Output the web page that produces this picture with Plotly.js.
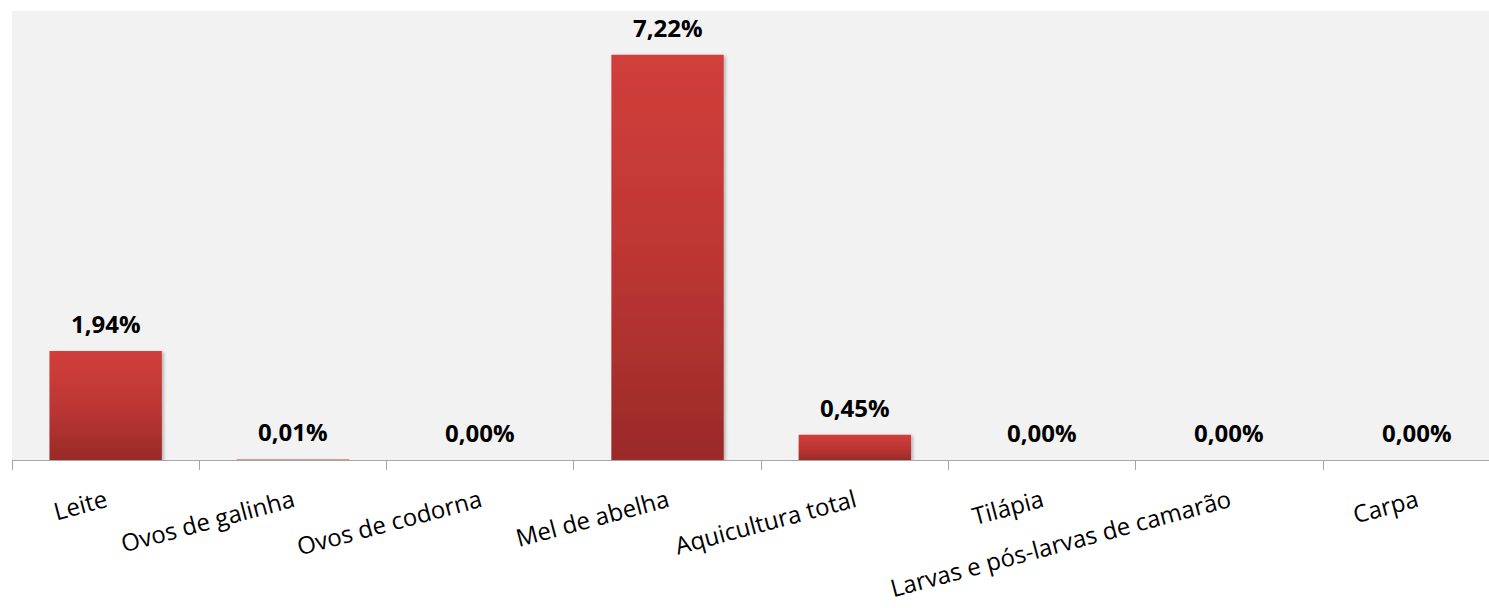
<!DOCTYPE html>
<html>
<head>
<meta charset="utf-8">
<script src="https://cdn.plot.ly/plotly-3.0.1.min.js"></script>
<style>
  html, body { margin: 0; padding: 0; background: #ffffff; }
  #chart { width: 1489px; height: 608px; }
</style>
</head>
<body>
<div id="chart"></div>
<script>
const categories = [
  "Leite",
  "Ovos de galinha",
  "Ovos de codorna",
  "Mel de abelha",
  "Aquicultura total",
  "Tilápia",
  "Larvas e pós-larvas de camarão",
  "Carpa"
];
const values = [1.94, 0.01, 0.00, 7.22, 0.45, 0.00, 0.00, 0.00];
const valueLabels = values.map(v => v.toFixed(2).replace('.', ',') + '%');

const trace = {
  type: 'bar',
  x: categories,
  y: values,
  marker: { color: '#b83532', line: { width: 0 } },
  hoverinfo: 'none'
};

const annotations = categories.map((c, i) => ({
  x: c,
  y: values[i],
  xref: 'x',
  yref: 'y',
  text: valueLabels[i],
  showarrow: false,
  yanchor: 'bottom',
  xanchor: 'center',
  yshift: 9,
  font: { family: 'Open Sans', size: 24, color: '#000000', weight: 'bold' }
}));

const layout = {
  width: 1489,
  height: 608,
  margin: { l: 12, r: 0, t: 11, b: 148, pad: 0 },
  paper_bgcolor: '#ffffff',
  plot_bgcolor: '#f2f2f2',
  showlegend: false,
  bargap: 0.4,
  font: { family: 'Open Sans', color: '#000000' },
  xaxis: {
    type: 'category',
    range: [-0.5, 7.386],
    tickson: 'boundaries',
    ticks: 'outside',
    ticklen: 9,
    tickwidth: 1,
    tickcolor: '#a6a6a6',
    showline: true,
    linecolor: '#a6a6a6',
    linewidth: 1,
    showgrid: false,
    zeroline: false,
    tickangle: -15,
    ticklabelstandoff: 17,
    tickfont: { family: 'Open Sans', size: 24, color: '#000000' },
    automargin: false,
    fixedrange: true
  },
  yaxis: {
    range: [0, 8],
    showgrid: false,
    zeroline: false,
    showline: false,
    showticklabels: false,
    ticks: '',
    fixedrange: true
  },
  annotations: annotations
};

Plotly.newPlot('chart', [trace], layout, { displayModeBar: false, staticPlot: true }).then(gd => {
  const svg = gd.querySelector('svg.main-svg');
  const ns = 'http://www.w3.org/2000/svg';
  let defs = svg.querySelector('defs');
  if (!defs) { defs = document.createElementNS(ns, 'defs'); svg.insertBefore(defs, svg.firstChild); }
  const grad = document.createElementNS(ns, 'linearGradient');
  grad.setAttribute('id', 'barGrad');
  grad.setAttribute('x1', '0'); grad.setAttribute('y1', '0');
  grad.setAttribute('x2', '0'); grad.setAttribute('y2', '1');
  [['0', '#d13f3b'], ['0.5', '#bd3633'], ['1', '#9a2a28']].forEach(([o, c]) => {
    const s = document.createElementNS(ns, 'stop');
    s.setAttribute('offset', o); s.setAttribute('stop-color', c);
    grad.appendChild(s);
  });
  defs.appendChild(grad);
  const filt = document.createElementNS(ns, 'filter');
  filt.setAttribute('id', 'barShadow');
  filt.setAttribute('x', '-10%'); filt.setAttribute('y', '-10%');
  filt.setAttribute('width', '130%'); filt.setAttribute('height', '130%');
  const ds = document.createElementNS(ns, 'feDropShadow');
  ds.setAttribute('dx', '2'); ds.setAttribute('dy', '1');
  ds.setAttribute('stdDeviation', '1.5');
  ds.setAttribute('flood-color', '#000'); ds.setAttribute('flood-opacity', '0.25');
  filt.appendChild(ds);
  defs.appendChild(filt);
  gd.querySelectorAll('.barlayer .point path').forEach(p => {
    p.style.fill = 'url(#barGrad)';
    p.setAttribute('filter', 'url(#barShadow)');
  });
});
</script>
</body>
</html>
